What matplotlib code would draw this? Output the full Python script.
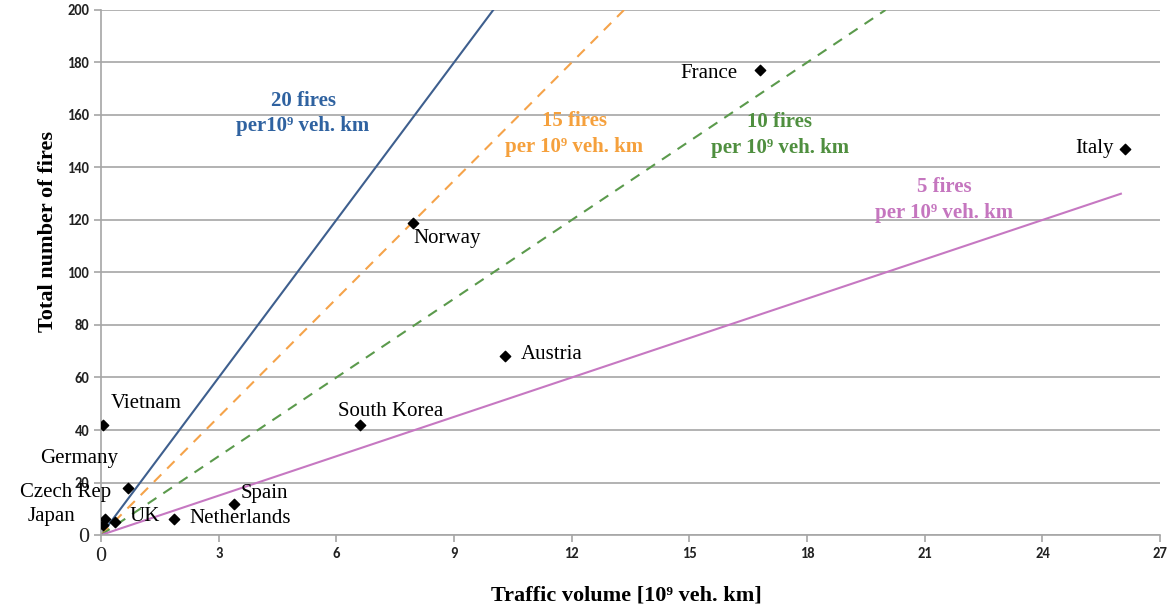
import numpy as np
import matplotlib.pyplot as plt

plt.rcParams['font.family'] = ['Liberation Serif', 'DejaVu Serif']

# Country data: traffic volume [10^9 veh. km] and total number of fires
countries = ['France', 'Italy', 'Norway', 'Austria', 'South Korea', 'Vietnam',
             'Germany', 'Czech Rep', 'Japan', 'UK', 'Netherlands', 'Spain']
traffic = [16.8, 26.1, 7.95, 10.3, 6.6, 0.05, 0.7, 0.1, 0.05, 0.35, 1.85, 3.4]
fires = [177, 147, 119, 68, 42, 42, 18, 6, 4, 5, 6, 12]

# label offsets (pixels) and alignment
label_dx = [-22, -11, 1, 16, -22, 8, -88, -85, -75, 15, 16, 6]
label_dy = [-3, 1, -16, 2, 13, 21, 29, 27, 8, 5, 1, 10]
label_ha = ['right', 'right', 'left', 'left', 'left', 'left', 'left', 'left',
            'left', 'left', 'left', 'left']

# Reference rates: fires per 10^9 veh. km
rates = [20, 15, 10, 5]
rate_xmax = [10, 200 / 15, 20, 26]
rate_colors = ['#3e5f8e', '#f5a34a', '#5b9a4c', '#c678c2']
rate_styles = ['-', (0, (5, 4)), (0, (5, 4)), '-']
rate_text_colors = ['#2f62a0', '#f5a03c', '#4f8f3f', '#c576bf']
rate_text_x = [5.15, 12.07, 17.3, 21.5]
rate_text_y = [160.5, 152.8, 152.4, 127.6]
rate_text = ['20 fires\nper10⁹ veh. km', '15 fires\nper 10⁹ veh. km',
             '10 fires\nper 10⁹ veh. km', '5 fires\nper 10⁹ veh. km']

fig = plt.figure(figsize=(11.73, 6.12), dpi=100)
ax = fig.add_axes([0.0861, 0.1258, 0.9029, 0.8579])

for r, xm, c, ls in zip(rates, rate_xmax, rate_colors, rate_styles):
    xs = np.array([0, xm])
    ax.plot(xs, r * xs, color=c, lw=1.5, linestyle=ls, zorder=2)

ax.scatter(traffic, fires, marker='D', s=28, color='black', zorder=4)

for name, x, y, dx, dy, ha in zip(countries, traffic, fires, label_dx, label_dy, label_ha):
    ax.annotate(name, (x, y), xytext=(dx * 0.72, dy * 0.72), textcoords='offset points',
                ha=ha, va='center', fontsize=15, color='black', zorder=5,
                annotation_clip=False)

for tx, ty, t, c in zip(rate_text_x, rate_text_y, rate_text, rate_text_colors):
    ax.text(tx, ty, t, ha='center', va='center', fontsize=15, fontweight='bold',
            color=c, linespacing=1.35, zorder=3)

ax.set_xlim(0, 27)
ax.set_ylim(0, 200)
ax.set_xticks(range(0, 28, 3))
ax.set_yticks(range(0, 201, 20))
ax.yaxis.grid(True, color='#a6a6a6', lw=1.2)
ax.set_axisbelow(True)
for s in ['top', 'right']:
    ax.spines[s].set_visible(False)
for s in ['left', 'bottom']:
    ax.spines[s].set_color('#a6a6a6')
    ax.spines[s].set_linewidth(1.2)
ax.tick_params(colors='#a6a6a6', length=5, width=1.2, labelcolor='#222222')
for lab in ax.get_xticklabels() + ax.get_yticklabels():
    lab.set_fontfamily(['Carlito', 'Lato', 'DejaVu Sans'])
    lab.set_fontsize(10.5)
    lab.set_fontweight('bold')
for lab in [ax.get_xticklabels()[0], ax.get_yticklabels()[0]]:
    lab.set_fontfamily('Liberation Serif')
    lab.set_fontweight('normal')
    lab.set_fontsize(16)

ax.set_xlabel('Traffic volume [10⁹ veh. km]', fontsize=16, fontweight='bold')
ax.set_ylabel('Total number of fires', fontsize=16, fontweight='bold')
ax.xaxis.set_label_coords(0.496, -0.097)
ax.yaxis.set_label_coords(-0.041, 0.579)

fig.savefig('out.png', dpi=100)
